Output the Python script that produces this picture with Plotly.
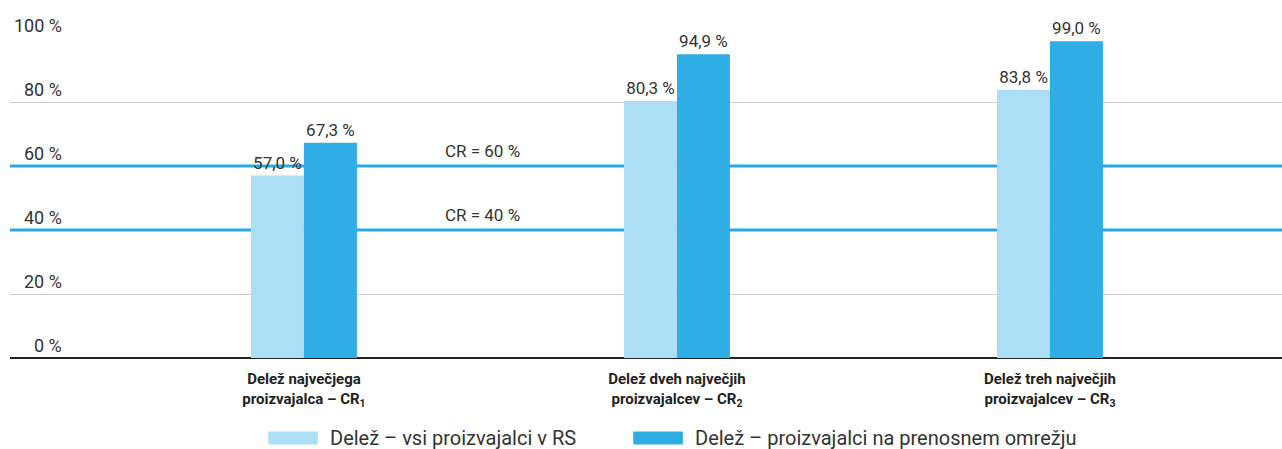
import plotly.graph_objects as go

categories = [
    "Delež največjega<br>proizvajalca – CR<sub>1</sub>",
    "Delež dveh največjih<br>proizvajalcev – CR<sub>2</sub>",
    "Delež treh največjih<br>proizvajalcev – CR<sub>3</sub>",
]
series_names = ["Delež – vsi proizvajalci v RS", "Delež – proizvajalci na prenosnem omrežju"]
vals_all = [57.0, 80.3, 83.8]
vals_grid = [67.3, 94.9, 99.0]
y_ticks = [0, 20, 40, 60, 80, 100]
cr_levels = [60, 40]

c_light = "#acdff5"
c_dark = "#2eaee4"
font_family = "Roboto, 'DejaVu Sans', sans-serif"

def fmt(v):
    return f"{v:.1f}".replace(".", ",") + " %"

fig = go.Figure()
for name, vals, col in [(series_names[0], vals_all, c_light), (series_names[1], vals_grid, c_dark)]:
    fig.add_trace(go.Bar(
        x=categories, y=vals, name=name, marker_color=col, marker_line_width=0,
        text=[fmt(v) for v in vals], textposition="outside", cliponaxis=False,
        textfont=dict(size=17, color="#333333", family=font_family),
        showlegend=False,
    ))

shapes = []
annotations = []
for lvl in cr_levels:
    shapes.append(dict(type="line", xref="paper", yref="y", x0=0, x1=1, y0=lvl, y1=lvl,
                       line=dict(color="#2aaae2", width=3), layer="between"))
    annotations.append(dict(xref="x", yref="y", x=0.48, y=lvl, text=f"CR = {lvl} %",
                            showarrow=False, xanchor="center", yanchor="bottom", yshift=3,
                            font=dict(size=17, color="#333333", family=font_family)))
for t in y_ticks:
    annotations.append(dict(xref="paper", yref="y", x=0.0425, y=t, text=f"{t} %",
                            showarrow=False, xanchor="right", yanchor="bottom", yshift=0,
                            font=dict(size=18, color="#333333", family=font_family)))

# manual legend
leg = [(0.203, c_light, series_names[0]), (0.490, c_dark, series_names[1])]
for x0, col, name in leg:
    shapes.append(dict(type="rect", xref="paper", yref="paper", x0=x0, x1=x0 + 0.039,
                       y0=-0.27, y1=-0.23, fillcolor=col, line_width=0))
    annotations.append(dict(xref="paper", yref="paper", x=x0 + 0.047, y=-0.25, text=name,
                            showarrow=False, xanchor="left", yanchor="middle",
                            font=dict(size=20, color="#333333", family=font_family)))

fig.update_layout(
    width=1282, height=449,
    margin=dict(l=10, r=0, t=38, b=91),
    paper_bgcolor="white", plot_bgcolor="white",
    barmode="group", bargap=0.716, bargroupgap=0,
    showlegend=False,
    shapes=shapes, annotations=annotations,
    font=dict(family=font_family, color="#222222"),
)
fig.update_xaxes(range=[-0.788, 2.622], showgrid=False, showline=False, ticks="",
                 ticklabelstandoff=10,
                 tickfont=dict(size=15, color="#222222", family="Roboto, sans-serif", weight="bold"))
fig.update_yaxes(range=[0, 100], tickvals=[20, 80, 100], showticklabels=False, showgrid=True,
                 gridcolor="#cccccc", gridwidth=1, zeroline=True, zerolinecolor="#222222",
                 zerolinewidth=1.5, showline=False)

fig.write_html("out.html", config={"displayModeBar": False},
               post_script="document.body.style.margin='0';document.body.style.overflow='hidden';")
